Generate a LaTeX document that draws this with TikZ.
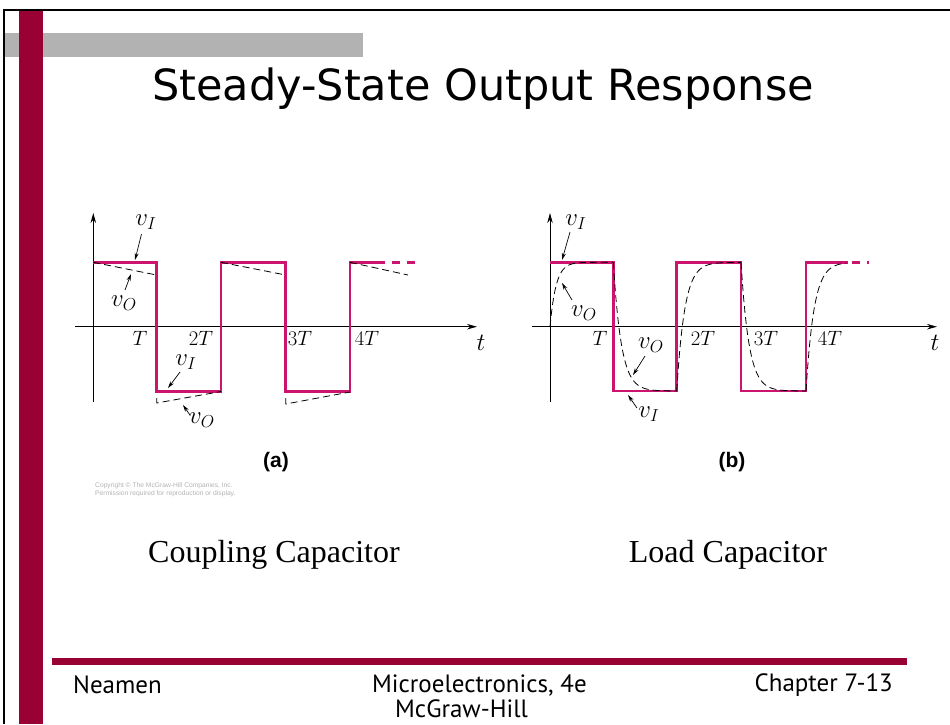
\documentclass[tikz,border=0pt]{standalone}
\usepackage{fontspec}
\setmainfont{Liberation Serif}
\newfontfamily\titlefont{DejaVu Sans}
\newfontfamily\footfont{PT Sans}
\newfontfamily\helv{Liberation Sans}
\usetikzlibrary{arrows.meta}
\definecolor{pinkw}{RGB}{204,20,110}
\definecolor{maroonbar}{RGB}{153,0,51}
\definecolor{barg}{RGB}{178,178,178}
\tikzset{
  sigline/.style={pinkw,line width=2.6pt},
  sigdash/.style={pinkw,line width=2.6pt,dash pattern=on 8pt off 7pt},
  vout/.style={black,line width=0.8pt,dash pattern=on 7pt off 4pt},
  axisline/.style={black,line width=0.9pt,-{Stealth[length=10pt,width=5.5pt]}},
  lblarrow/.style={black,line width=0.7pt,-{Stealth[length=7pt,width=4pt]}},
  mlab/.style={inner sep=0pt,font=\fontsize{23}{26}\selectfont},
  tlab/.style={inner sep=0pt,font=\fontsize{20}{24}\selectfont},
  foottext/.style={inner sep=0pt,font=\footfont\fontsize{25}{29}\selectfont},
  captext/.style={inner sep=0pt,font=\fontsize{32}{36}\selectfont},
  abtext/.style={inner sep=0pt,font=\helv\bfseries\fontsize{21}{24}\selectfont}
}
\begin{document}
\begin{tikzpicture}[x=1pt,y=-1pt]
\useasboundingbox (0,0) rectangle (950,724);
% slide decoration
\fill[barg] (4,33) rectangle (363,57);
\fill[maroonbar] (19,10) rectangle (43,724);
\draw[line width=2pt] (4,724) -- (4,10) -- (950,10);
\fill[maroonbar] (52,658) rectangle (907,665);
\node[inner sep=0pt,font=\titlefont\fontsize{43}{48}\selectfont] (title) at (483,89) {Steady-State Output Response};
% footer
\node[foottext,anchor=west] (f1) at (73,685) {Neamen};
\node[foottext,anchor=west] (f2) at (372,685) {Microelectronics, 4e};
\node[foottext,anchor=west] (f3) at (395,709) {McGraw-Hill};
\node[foottext,anchor=east] (f4) at (893,685) {Chapter 7-13};

% ================= plot (a) =================
\coordinate (ay0) at (93.3,402);
\coordinate (ay1) at (93.3,213);
\coordinate (ax0) at (75,326.7);
\coordinate (ax1) at (477,326.7);
\draw[axisline] (ay0) -- (ay1);
\draw[axisline] (ax0) -- (ax1);
\node[mlab] (at) at (481,343) {$t$};
% input square wave
\draw[sigline] (93.3,262.3) -- (156.7,262.3) -- (156.7,391.7) -- (221,391.7) -- (221,262.3)
  -- (285.7,262.3) -- (285.7,391.7) -- (350,391.7) -- (350,262.3) -- (385,262.3);
\draw[sigdash] (392,262.3) -- (415,262.3);
% output
\draw[vout] (93.3,262.3) -- (156.7,275);
\draw[vout] (156.7,398) -- (156.7,403) -- (221,391.5);
\draw[vout] (221,262.3) -- (285.7,275);
\draw[vout] (285.7,398) -- (285.7,404) -- (350,392);
\draw[vout] (350,262.3) -- (408,275);
% ticks
\node[tlab] (aT) at (140,338) {$T$};
\node[tlab] (a2T) at (201,338) {$2T$};
\node[tlab] (a3T) at (300,338) {$3T$};
\node[tlab] (a4T) at (367,338) {$4T$};
% labels
\node[mlab] (avi1) at (146,222) {$v_I$};
\coordinate (avi1s) at (141.5,234);
\coordinate (avi1t) at (135,260);
\draw[lblarrow] (avi1s) -- (avi1t);
\node[mlab] (avo1) at (124,303) {$v_O$};
\coordinate (avo1s) at (125,290);
\coordinate (avo1t) at (131,274);
\draw[lblarrow] (avo1s) -- (avo1t);
\node[mlab] (avi2) at (186,362) {$v_I$};
\coordinate (avi2s) at (180,372);
\coordinate (avi2t) at (168,388);
\draw[lblarrow] (avi2s) -- (avi2t);
\node[mlab] (avo2) at (202,420) {$v_O$};
\coordinate (avo2s) at (190,415);
\coordinate (avo2t) at (183,405);
\draw[lblarrow] (avo2s) -- (avo2t);
\node[abtext] (la) at (276,462) {(a)};
\node[inner sep=0pt,align=left,text=black!30,font=\helv\fontsize{6.7}{7.5}\selectfont,anchor=west] (copy) at (95,490) {Copyright © The McGraw-Hill Companies, Inc.\\Permission required for reproduction or display.};
\node[captext] (ca) at (274,555) {Coupling Capacitor};

% ================= plot (b) =================
\coordinate (by0) at (550,402);
\coordinate (by1) at (550,213);
\coordinate (bx0) at (532,326.7);
\coordinate (bx1) at (937,326.7);
\draw[axisline] (by0) -- (by1);
\draw[axisline] (bx0) -- (bx1);
\node[mlab] (bt) at (935,343) {$t$};
\draw[sigline] (550,262.3) -- (613.3,262.3) -- (613.3,391) -- (676.7,391) -- (676.7,262.3)
  -- (741,262.3) -- (741,391) -- (806,391) -- (806,262.3) -- (848,262.3);
\draw[sigdash] (852,262.3) -- (869,262.3);
% output exponentials
\draw[vout] plot[domain=0:63.3,samples=50] ({550+\x},{262.3+(326.7-262.3)*exp(-\x/6)});
\draw[vout] plot[domain=0:63.4,samples=50] ({613.3+\x},{391+(262.3-391)*exp(-\x/8)});
\draw[vout] plot[domain=0:64.3,samples=50] ({676.7+\x},{262.3+(391-262.3)*exp(-\x/8)});
\draw[vout] plot[domain=0:65,samples=50] ({741+\x},{391+(262.3-391)*exp(-\x/8)});
\draw[vout] plot[domain=0:40,samples=40] ({806+\x},{262.3+(391-262.3)*exp(-\x/8)});
% ticks
\node[tlab] (bT) at (600,338) {$T$};
\node[tlab] (b2T) at (703,338) {$2T$};
\node[tlab] (b3T) at (766,338) {$3T$};
\node[tlab] (b4T) at (830,338) {$4T$};
% labels
\node[mlab] (bvi1) at (576,222) {$v_I$};
\coordinate (bvi1s) at (570,232);
\coordinate (bvi1t) at (562,260);
\draw[lblarrow] (bvi1s) -- (bvi1t);
\node[mlab] (bvo1) at (584,313) {$v_O$};
\coordinate (bvo1s) at (572,300);
\coordinate (bvo1t) at (562,283);
\draw[lblarrow] (bvo1s) -- (bvo1t);
\node[mlab] (bvo2) at (651,345) {$v_O$};
\coordinate (bvo2s) at (645,356);
\coordinate (bvo2t) at (633,375);
\draw[lblarrow] (bvo2s) -- (bvo2t);
\node[mlab] (bvi2) at (649,414) {$v_I$};
\coordinate (bvi2s) at (637,408);
\coordinate (bvi2t) at (628,395);
\draw[lblarrow] (bvi2s) -- (bvi2t);
\node[abtext] (lb) at (732,462) {(b)};
\node[captext] (cb) at (728,555) {Load Capacitor};
\end{tikzpicture}
\end{document}
